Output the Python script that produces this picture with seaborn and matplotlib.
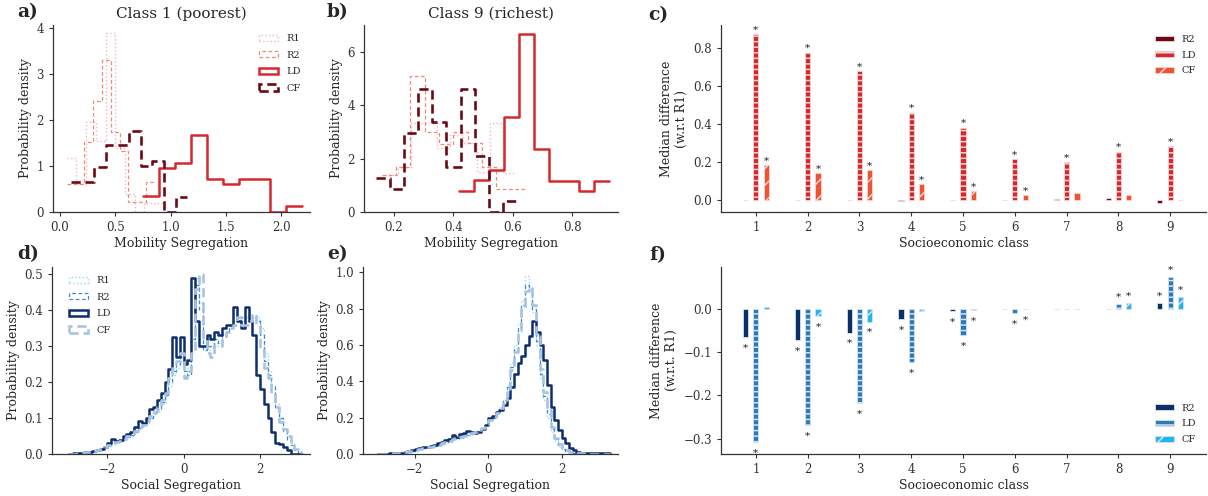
import numpy as np
import pandas as pd
import matplotlib
matplotlib.use("Agg")
import matplotlib.pyplot as plt
import seaborn as sns
from matplotlib.patches import Patch

# ------------------------------------------------------------------ data
series = ["R1", "R2", "LD", "CF"]

# panel a: Class 1 (poorest), mobility segregation histograms (density)
a_R1_start, a_R1_width = 0.06, 0.088
a_R1 = [1.17, 0.6, 1.95, 1.55, 3.9, 1.4, 0.4, 0.0, 0.2, 0.2]
a_R2_start, a_R2_width = 0.06, 0.08
a_R2 = [0.6, 0.6, 1.53, 2.42, 3.3, 1.75, 1.33, 0.22, 0.22, 0.65]
a_LD_start, a_LD_width = 0.754, 0.1436
a_LD = [0.35, 0.95, 1.07, 1.67, 0.71, 0.6, 0.71, 0.71, 0.0, 0.12]
a_CF_start, a_CF_width = 0.097, 0.1056
a_CF = [0.65, 0.65, 0.97, 1.45, 1.45, 1.77, 1.0, 1.12, 0.0, 0.33]

# panel b: Class 9 (richest)
b_R1_start, b_R1_width = 0.17, 0.044
b_R1 = [1.4, 1.7, 3.35, 3.35, 2.4, 2.9, 2.6, 1.5, 3.35, 1.45]
b_R2_start, b_R2_width = 0.16, 0.048
b_R2 = [1.4, 1.7, 5.1, 3.0, 2.55, 3.0, 2.6, 1.7, 0.88, 0.88]
b_LD_start, b_LD_width = 0.418, 0.0506
b_LD = [0.8, 1.2, 1.58, 3.55, 6.7, 2.35, 1.18, 1.18, 0.8, 1.18]
b_CF_start, b_CF_width = 0.14, 0.0474
b_CF = [1.28, 0.85, 2.95, 4.63, 3.38, 1.68, 4.63, 2.1, 0.0, 0.42]

# panel d: Class 1, social segregation (bins of 0.1 starting at -3.0)
d_start, d_width = -3.0, 0.1
d_R1 = [0.0, 0.0, 0.002, 0.003, 0.004, 0.005, 0.007, 0.01, 0.012, 0.018,
        0.022, 0.028, 0.03, 0.035, 0.04, 0.045, 0.05, 0.06, 0.07, 0.08,
        0.085, 0.1, 0.11, 0.12, 0.14, 0.16, 0.19, 0.22, 0.24, 0.26,
        0.22, 0.24, 0.3, 0.49, 0.42, 0.3, 0.29, 0.3, 0.31, 0.3,
        0.33, 0.35, 0.35, 0.37, 0.38, 0.37, 0.38, 0.39, 0.37, 0.38,
        0.35, 0.28, 0.23, 0.18, 0.14, 0.1, 0.07, 0.05, 0.03, 0.015, 0.005]
d_R2 = [0.0, 0.001, 0.002, 0.004, 0.005, 0.006, 0.008, 0.01, 0.013, 0.017,
        0.024, 0.03, 0.032, 0.036, 0.042, 0.047, 0.053, 0.062, 0.072, 0.08,
        0.09, 0.1, 0.115, 0.125, 0.145, 0.165, 0.2, 0.23, 0.25, 0.27,
        0.23, 0.22, 0.32, 0.47, 0.4, 0.29, 0.3, 0.3, 0.32, 0.31,
        0.33, 0.34, 0.36, 0.37, 0.37, 0.38, 0.37, 0.37, 0.38, 0.37,
        0.33, 0.26, 0.22, 0.19, 0.13, 0.1, 0.065, 0.04, 0.025, 0.01, 0.003]
d_LD = [0.0, 0.002, 0.003, 0.004, 0.006, 0.005, 0.008, 0.01, 0.015, 0.02,
        0.03, 0.042, 0.035, 0.04, 0.05, 0.055, 0.062, 0.075, 0.092, 0.086,
        0.1, 0.125, 0.13, 0.15, 0.17, 0.2, 0.235, 0.326, 0.27, 0.326,
        0.25, 0.262, 0.49, 0.37, 0.3, 0.3, 0.33, 0.32, 0.34, 0.33,
        0.35, 0.36, 0.36, 0.41, 0.37, 0.35, 0.41, 0.37, 0.33, 0.22,
        0.18, 0.14, 0.1, 0.06, 0.03, 0.028, 0.02, 0.01, 0.0, 0.0, 0.0]
d_CF = [0.0, 0.001, 0.003, 0.004, 0.005, 0.006, 0.008, 0.01, 0.014, 0.02,
        0.025, 0.03, 0.033, 0.037, 0.043, 0.05, 0.055, 0.065, 0.075, 0.082,
        0.092, 0.105, 0.118, 0.13, 0.15, 0.17, 0.21, 0.24, 0.26, 0.28,
        0.21, 0.23, 0.28, 0.46, 0.5, 0.32, 0.28, 0.27, 0.3, 0.3,
        0.32, 0.34, 0.35, 0.36, 0.38, 0.36, 0.36, 0.37, 0.39, 0.36,
        0.29, 0.24, 0.21, 0.17, 0.13, 0.09, 0.07, 0.05, 0.03, 0.015, 0.005]

# panel e: Class 9, social segregation (bins of 0.1 starting at -3.0)
e_start, e_width = -3.0, 0.1
e_R1 = [0.0, 0.0, 0.001, 0.002, 0.003, 0.004, 0.006, 0.008, 0.012, 0.016,
        0.022, 0.028, 0.032, 0.034, 0.036, 0.042, 0.048, 0.055, 0.062, 0.07,
        0.08, 0.085, 0.09, 0.1, 0.105, 0.11, 0.115, 0.125, 0.14, 0.16,
        0.18, 0.2, 0.22, 0.25, 0.3, 0.38, 0.5, 0.6, 0.72, 0.85,
        0.98, 0.9, 0.78, 0.6, 0.42, 0.3, 0.2, 0.12, 0.07, 0.04,
        0.025, 0.015, 0.01, 0.006, 0.004, 0.002, 0.001, 0.0, 0.0, 0.0,
        0.0, 0.0, 0.0]
e_R2 = [0.0, 0.0, 0.001, 0.002, 0.003, 0.005, 0.007, 0.009, 0.013, 0.017,
        0.023, 0.029, 0.033, 0.035, 0.038, 0.044, 0.05, 0.057, 0.064, 0.072,
        0.082, 0.087, 0.092, 0.1, 0.106, 0.112, 0.118, 0.128, 0.142, 0.162,
        0.185, 0.2, 0.22, 0.25, 0.3, 0.37, 0.48, 0.58, 0.7, 0.82,
        0.93, 0.92, 0.8, 0.62, 0.44, 0.32, 0.22, 0.14, 0.08, 0.05,
        0.03, 0.018, 0.012, 0.007, 0.005, 0.003, 0.002, 0.001, 0.0, 0.0,
        0.0, 0.0, 0.0]
e_LD = [0.0, 0.0, 0.002, 0.003, 0.004, 0.006, 0.008, 0.01, 0.015, 0.02,
        0.028, 0.035, 0.04, 0.038, 0.042, 0.05, 0.058, 0.065, 0.075, 0.085,
        0.105, 0.095, 0.11, 0.115, 0.125, 0.12, 0.115, 0.12, 0.135, 0.16,
        0.2, 0.21, 0.23, 0.24, 0.27, 0.31, 0.37, 0.44, 0.5, 0.54,
        0.6, 0.65, 0.73, 0.67, 0.6, 0.52, 0.38, 0.26, 0.19, 0.13,
        0.09, 0.06, 0.035, 0.02, 0.012, 0.008, 0.006, 0.005, 0.004, 0.003,
        0.003, 0.005, 0.004]
e_CF = [0.0, 0.001, 0.002, 0.002, 0.004, 0.005, 0.007, 0.01, 0.014, 0.018,
        0.024, 0.03, 0.034, 0.036, 0.04, 0.046, 0.052, 0.058, 0.066, 0.074,
        0.083, 0.088, 0.094, 0.1, 0.108, 0.114, 0.12, 0.13, 0.145, 0.165,
        0.19, 0.205, 0.225, 0.255, 0.3, 0.36, 0.46, 0.56, 0.68, 0.8,
        0.9, 0.92, 0.82, 0.65, 0.47, 0.34, 0.24, 0.15, 0.09, 0.055,
        0.035, 0.02, 0.012, 0.008, 0.005, 0.003, 0.002, 0.001, 0.0, 0.0,
        0.0, 0.0, 0.0]

# panels c and f: median differences w.r.t. R1 per socioeconomic class
classes = ["1", "2", "3", "4", "5", "6", "7", "8", "9"]
bar_series = ["R2", "LD", "CF"]
c_R2 = [0.0, -0.003, 0.0, -0.007, 0.0, 0.0, 0.003, 0.008, -0.015]
c_LD = [0.873, 0.774, 0.676, 0.458, 0.379, 0.213, 0.197, 0.253, 0.283]
c_CF = [0.18, 0.138, 0.155, 0.082, 0.044, 0.026, 0.035, 0.023, 0.0]
c_sig_R2 = [0, 0, 0, 0, 0, 0, 0, 0, 0]
c_sig_LD = [1, 1, 1, 1, 1, 1, 1, 1, 1]
c_sig_CF = [1, 1, 1, 1, 1, 1, 0, 0, 0]

f_R2 = [-0.065, -0.072, -0.055, -0.024, -0.006, -0.001, -0.0005, -0.0005, 0.012]
f_LD = [-0.307, -0.268, -0.217, -0.124, -0.061, -0.011, -0.001, 0.01, 0.073]
f_CF = [0.003, -0.018, -0.03, -0.005, -0.004, -0.001, -0.001, 0.013, 0.027]
f_sig_R2 = [1, 1, 1, 1, 1, 0, 0, 0, 1]
f_sig_LD = [1, 1, 1, 1, 1, 1, 0, 1, 1]
f_sig_CF = [0, 1, 1, 0, 1, 1, 0, 1, 1]

# ------------------------------------------------------------------ style
sns.set_style("ticks")
plt.rcParams["font.family"] = ["DejaVu Serif"]
plt.rcParams.update({
    "axes.edgecolor": "#333333",
    "axes.linewidth": 0.9,
    "xtick.color": "#333333",
    "ytick.color": "#333333",
    "xtick.major.size": 3,
    "ytick.major.size": 3,
    "xtick.major.width": 0.8,
    "ytick.major.width": 0.8,
    "xtick.labelsize": 8.5,
    "ytick.labelsize": 8.5,
    "axes.labelsize": 9,
    "hatch.linewidth": 1.1,
})

W, H = 1208, 496
fig = plt.figure(figsize=(W / 100, H / 100), dpi=100)


def px_axes(l, t, r, b):
    return fig.add_axes([l / W, 1 - b / H, (r - l) / W, (b - t) / H])


ax_a = px_axes(53, 25, 310, 212)
ax_b = px_axes(364, 25, 618, 212)
ax_c = px_axes(721, 25, 1206, 212)
ax_d = px_axes(52, 267, 310, 454)
ax_e = px_axes(363, 267, 618, 454)
ax_f = px_axes(721, 267, 1206, 454)

red_styles = {
    "R1": dict(color="#f4b3bf", linestyle=":", linewidth=1.0),
    "R2": dict(color="#ef8a78", linestyle=(0, (3, 2)), linewidth=0.9),
    "LD": dict(color="#d7282f", linestyle="-", linewidth=1.8),
    "CF": dict(color="#6b0a14", linestyle=(0, (3.5, 1.8)), linewidth=1.9),
}
blue_styles = {
    "R1": dict(color="#97d6ee", linestyle=":", linewidth=1.0),
    "R2": dict(color="#3b8ec3", linestyle=(0, (3, 2)), linewidth=0.9),
    "LD": dict(color="#0d2f6e", linestyle="-", linewidth=1.8),
    "CF": dict(color="#a9c3e3", linestyle=(0, (3.5, 1.8)), linewidth=1.9),
}


def step_hist(ax, start, width, heights, style):
    heights = [float(v) for v in heights]
    edges = [start + width * i for i in range(len(heights) + 1)]
    centers = [(edges[i] + edges[i + 1]) / 2 for i in range(len(heights))]
    df = pd.DataFrame({"x": centers, "w": heights})
    sns.histplot(data=df, x="x", weights="w", bins=edges, stat="count",
                 element="step", fill=False, ax=ax, **style)


def legend_handles(styles):
    return [Patch(facecolor="none", edgecolor=styles[s]["color"],
                  linestyle=styles[s]["linestyle"],
                  linewidth=styles[s]["linewidth"], label=s)
            for s in series]


# ---- panel a
for s, (st, wd, h) in zip(series, [(a_R1_start, a_R1_width, a_R1),
                                   (a_R2_start, a_R2_width, a_R2),
                                   (a_LD_start, a_LD_width, a_LD),
                                   (a_CF_start, a_CF_width, a_CF)]):
    step_hist(ax_a, st, wd, h, red_styles[s])
ax_a.set_xlim(-0.063, 2.262)
ax_a.set_ylim(0, 4.07)
ax_a.set_yticks([0, 1, 2, 3, 4])
ax_a.set_xticks([0.0, 0.5, 1.0, 1.5, 2.0])
ax_a.set_title("Class 1 (poorest)", fontsize=11, pad=5)
ax_a.set_xlabel("Mobility Segregation", labelpad=2)
ax_a.set_ylabel("Probability density", labelpad=3)
ax_a.legend(handles=legend_handles(red_styles), loc="upper right",
            frameon=False, fontsize=7, handlelength=2.0, handleheight=0.6,
            labelspacing=0.78, borderaxespad=0.55)

# ---- panel b
for s, (st, wd, h) in zip(series, [(b_R1_start, b_R1_width, b_R1),
                                   (b_R2_start, b_R2_width, b_R2),
                                   (b_LD_start, b_LD_width, b_LD),
                                   (b_CF_start, b_CF_width, b_CF)]):
    step_hist(ax_b, st, wd, h, red_styles[s])
ax_b.set_xlim(0.1, 0.953)
ax_b.set_ylim(0, 7.02)
ax_b.set_yticks([0, 2, 4, 6])
ax_b.set_xticks([0.2, 0.4, 0.6, 0.8])
ax_b.set_title("Class 9 (richest)", fontsize=11, pad=5)
ax_b.set_xlabel("Mobility Segregation", labelpad=2)
ax_b.set_ylabel("Probability density", labelpad=3)

# ---- panel d
for s, h in zip(series, [d_R1, d_R2, d_LD, d_CF]):
    step_hist(ax_d, d_start, d_width, h, blue_styles[s])
ax_d.set_xlim(-3.45, 3.31)
ax_d.set_ylim(0, 0.52)
ax_d.set_yticks([0.0, 0.1, 0.2, 0.3, 0.4, 0.5])
ax_d.set_xticks([-2, 0, 2])
ax_d.set_xlabel("Social Segregation", labelpad=2)
ax_d.set_ylabel("Probability density", labelpad=3)
ax_d.legend(handles=legend_handles(blue_styles), loc="upper left",
            frameon=False, fontsize=7, handlelength=2.0, handleheight=0.6,
            labelspacing=0.78, borderaxespad=0.55, bbox_to_anchor=(0.03, 1.0))

# ---- panel e
for s, h in zip(series, [e_R1, e_R2, e_LD, e_CF]):
    step_hist(ax_e, e_start, e_width, h, blue_styles[s])
ax_e.set_xlim(-3.41, 3.53)
ax_e.set_ylim(0, 1.03)
ax_e.set_yticks([0.0, 0.2, 0.4, 0.6, 0.8, 1.0])
ax_e.set_xticks([-2, 0, 2])
ax_e.set_xlabel("Social Segregation", labelpad=2)
ax_e.set_ylabel("Probability density", labelpad=3)


# ---- bar panels
def bar_panel(ax, vals, sigs, colors, edge, ylim, yticks, ylabel, legend_loc,
              pos_dy):
    df = pd.DataFrame({
        "cls": classes * 3,
        "series": sum([[s] * len(classes) for s in bar_series], []),
        "val": sum([list(v) for v in vals], []),
    })
    sns.barplot(data=df, x="cls", y="val", hue="series", order=classes,
                hue_order=bar_series, palette=colors, width=0.6, gap=0.5,
                dodge=True, errorbar=None, legend=False, ax=ax,
                saturation=1, linewidth=0.6, edgecolor=edge)
    hatches = ["", "---", "//"]
    for cont, hatch in zip(ax.containers, hatches):
        for p in cont.patches:
            p.set_hatch(hatch)
            p.set_edgecolor(edge)
    # significance stars
    for cont, sig in zip(ax.containers, sigs):
        for p, sg in zip(cont.patches, sig):
            if not sg:
                continue
            xc = p.get_x() + p.get_width() / 2
            y0 = p.get_y()
            hgt = p.get_height()
            top = y0 + hgt
            if min(y0, top) >= 0:
                yv, dy = max(y0, top), pos_dy
            else:
                yv, dy = min(y0, top), -13.5
            ax.annotate("*", (xc, yv), xytext=(0, dy),
                        textcoords="offset pixels", ha="center",
                        va="baseline", fontsize=7.5, color="#222222")
    ax.set_xlim(-0.674, 8.69)
    ax.set_ylim(*ylim)
    ax.set_yticks(yticks)
    ax.set_xlabel("Socioeconomic class", labelpad=2)
    ax.set_ylabel(ylabel, labelpad=4)
    ax.legend(handles=list(ax.containers), labels=bar_series, loc=legend_loc,
              frameon=False, fontsize=7, handlelength=2.0, handleheight=0.5,
              labelspacing=0.7, borderaxespad=0.6)


bar_panel(ax_c, [c_R2, c_LD, c_CF], [c_sig_R2, c_sig_LD, c_sig_CF],
          ["#6b0a14", "#d7262c", "#ef532f"], "#f2d6d6",
          (-0.065, 0.92), [0.0, 0.2, 0.4, 0.6, 0.8],
          "Median difference\n(w.r.t R1)", "upper right", 1.5)
bar_panel(ax_f, [f_R2, f_LD, f_CF], [f_sig_R2, f_sig_LD, f_sig_CF],
          ["#0b2f6b", "#2b7bba", "#1fb6ee"], "#d6e2ee",
          (-0.335, 0.096), [-0.3, -0.2, -0.1, 0.0],
          "Median difference\n(w.r.t. R1)", "lower right", 4.5)

for ax in [ax_a, ax_b, ax_c, ax_d, ax_e, ax_f]:
    sns.despine(ax=ax)

# panel letters
for lbl, x, y in [("a)", 17, 3), ("b)", 327, 3), ("c)", 648, 6),
                  ("d)", 17, 245), ("e)", 327, 245), ("f)", 649, 246)]:
    fig.text(x / W, 1 - y / H, lbl, fontsize=13.5, fontweight="bold",
             va="top", ha="left")

fig.savefig("out.png", dpi=100)
